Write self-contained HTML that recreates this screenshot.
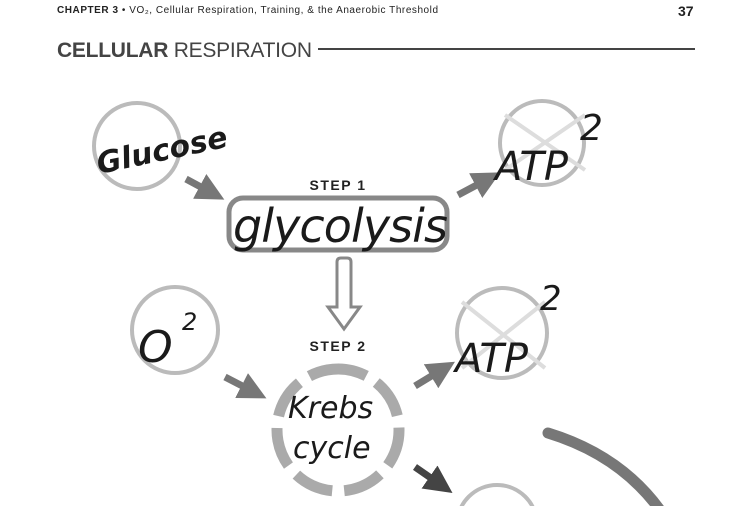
<!DOCTYPE html>
<html><head><style>
html,body{margin:0;padding:0;background:#fff;width:750px;height:506px;overflow:hidden}
svg{display:block}
.hw{font-family:"DejaVu Sans","Liberation Sans",sans-serif;fill:#1a1a1a;font-style:italic}
</style></head><body>
<svg width="750" height="506" viewBox="0 0 750 506" xmlns="http://www.w3.org/2000/svg">
<defs>
<marker id="ah" markerWidth="4" markerHeight="4" refX="2" refY="2" orient="auto"><path d="M0,0 L4,2 L0,4 Z" fill="#777"/></marker>
<marker id="ahd" markerWidth="4" markerHeight="4" refX="2" refY="2" orient="auto"><path d="M0,0 L4,2 L0,4 Z" fill="#444"/></marker>
</defs>
<text x="57" y="13" font-family="Liberation Sans,sans-serif" font-size="10" fill="#222" textLength="381"><tspan font-weight="bold">CHAPTER 3</tspan>  •  VO₂, Cellular Respiration, Training, &amp; the Anaerobic Threshold</text>
<text x="678" y="16" font-family="Liberation Sans,sans-serif" font-size="14" font-weight="bold" fill="#222">37</text>
<text x="57" y="57" font-family="Liberation Sans,sans-serif" font-size="21" fill="#444" textLength="255"><tspan font-weight="bold">CELLULAR</tspan> RESPIRATION</text>
<line x1="318" y1="49" x2="695" y2="49" stroke="#444" stroke-width="2"/>

<circle cx="137" cy="146" r="43" fill="none" stroke="#bbb" stroke-width="4"/>
<text class="hw" x="95" y="165" font-size="30" font-weight="bold" transform="rotate(-12 140 150)">Glucose</text>
<line x1="186" y1="179" x2="212" y2="193" stroke="#777" stroke-width="7" marker-end="url(#ah)"/>

<text x="338" y="190" text-anchor="middle" font-family="Liberation Sans,sans-serif" font-size="14" font-weight="bold" letter-spacing="1.5" fill="#222">STEP 1</text>
<rect x="229" y="198" width="218" height="52" rx="14" fill="none" stroke="#888" stroke-width="5"/>
<text class="hw" x="233" y="242" font-size="46" textLength="215">glycolysis</text>

<line x1="458" y1="195" x2="488" y2="179" stroke="#777" stroke-width="7" marker-end="url(#ah)"/>
<circle cx="542" cy="143" r="42" fill="none" stroke="#bbb" stroke-width="4"/>
<path d="M505,115 L585,170 M585,115 L505,170" stroke="#ddd" stroke-width="4"/>
<text class="hw" x="495" y="180" font-size="40">ATP</text>
<text class="hw" x="580" y="140" font-size="36">2</text>

<path d="M337,262 Q337,258 341,258 L347,258 Q351,258 351,262 L351,307 L360,307 L344,329 L328,307 L337,307 Z" fill="none" stroke="#888" stroke-width="3"/>

<circle cx="175" cy="330" r="43" fill="none" stroke="#bbb" stroke-width="4"/>
<text class="hw" x="138" y="362" font-size="44">O</text>
<text class="hw" x="182" y="330" font-size="24">2</text>
<line x1="225" y1="377" x2="254" y2="392" stroke="#777" stroke-width="7" marker-end="url(#ah)"/>

<text x="338" y="351" text-anchor="middle" font-family="Liberation Sans,sans-serif" font-size="14" font-weight="bold" letter-spacing="1.5" fill="#222">STEP 2</text>
<circle cx="338" cy="430" r="61" fill="none" stroke="#aaa" stroke-width="11" stroke-dasharray="40 12" transform="rotate(-100 338 430)"/>
<text class="hw" x="288" y="418" font-size="30">Krebs</text>
<text class="hw" x="293" y="458" font-size="30">cycle</text>

<line x1="415" y1="386" x2="443" y2="369" stroke="#777" stroke-width="7" marker-end="url(#ah)"/>
<circle cx="502" cy="333" r="45" fill="none" stroke="#bbb" stroke-width="4"/>
<path d="M462,302 L545,368 M545,302 L462,368" stroke="#ddd" stroke-width="4"/>
<text class="hw" x="455" y="372" font-size="40">ATP</text>
<text class="hw" x="540" y="310" font-size="34">2</text>

<line x1="415" y1="467" x2="441" y2="485" stroke="#444" stroke-width="7" marker-end="url(#ahd)"/>
<circle cx="497" cy="525" r="40" fill="none" stroke="#bbb" stroke-width="4"/>
<path d="M548,433 Q620,455 660,510" fill="none" stroke="#777" stroke-width="11" stroke-linecap="round"/>
</svg>
</body></html>
